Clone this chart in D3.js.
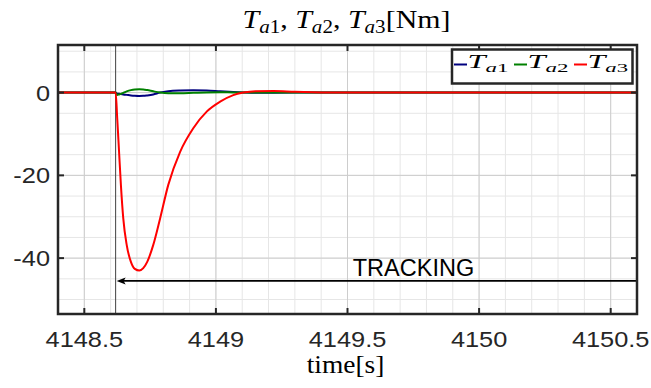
<!DOCTYPE html>
<html>
<head>
<meta charset="utf-8">
<script src="https://cdn.jsdelivr.net/npm/d3@7/dist/d3.min.js"></script>
<style>
  html, body { margin: 0; padding: 0; background: #ffffff; }
  svg { display: block; }
</style>
</head>
<body>
<svg id="chart" width="651" height="388"></svg>
<script>
// Sample times [s] shared by the three torque traces
const time = [4148.40, 4148.619, 4148.625, 4148.632, 4148.639, 4148.648, 4148.661, 4148.677,
  4148.692, 4148.709, 4148.724, 4148.739, 4148.762, 4148.788, 4148.819, 4148.864, 4148.914,
  4148.965, 4149.016, 4149.066, 4149.104, 4149.15, 4149.22, 4149.3, 4149.4, 4149.5, 4150.6];

// Torques [Nm]
const Ta1 = [0, 0, -0.3, -0.3, -0.35, -0.45, -0.55, -0.68, -0.76, -0.8, -0.78, -0.68, -0.45, 0,
  0.3, 0.5, 0.58, 0.5, 0.32, 0.15, 0.05, -0.03, -0.02, 0, 0, 0, 0];
const Ta2 = [0, 0, -0.6, -0.45, -0.3, -0.05, 0.3, 0.6, 0.75, 0.8, 0.75, 0.6, 0.3, 0, -0.15,
  -0.15, -0.05, 0.05, 0.08, 0.05, 0.02, 0, 0, 0, 0, 0, 0];
const Ta3 = [0, 0, -6.2, -14.3, -22.3, -30.4, -36.8, -40.9, -42.6, -43, -42.4, -40.9, -36.8,
  -30.4, -22.3, -14.3, -8.6, -4.6, -2.2, -0.6, 0, 0.35, 0.4, 0.2, 0.05, 0, 0];

const seriesNames = ["a1", "a2", "a3"];
const seriesColors = ["#00007f", "#008000", "#ff0000"];

// Axis ticks
const xTicks = [4148.5, 4149, 4149.5, 4150, 4150.5];
const xTickLabels = ["4148.5", "4149", "4149.5", "4150", "4150.5"];
const yTicks = [0, -20, -40];
const yTickLabels = ["0", "-20", "-40"];

// Event marker and annotation
const eventTime = 4148.619;
const arrowLevel = -45.5;
const arrowStart = 4150.6;
const annotation = "TRACKING";
const annotationTime = 4149.52;
const annotationLevel = -44.3;

const xDomain = [4148.4, 4150.6];
const yDomain = [-53.5, 11.5];

const svg = d3.select("#chart");
const L = 58, R = 637, T = 45, B = 314;
const x = d3.scaleLinear().domain(xDomain).range([L, R]);
const y = d3.scaleLinear().domain(yDomain).range([B, T]);

const ink = "#262626";
const tickFont = "'Liberation Sans', Arial, sans-serif";
const mathFont = "'Liberation Serif', 'Times New Roman', serif";

// Plot background
svg.append("rect").attr("x", L).attr("y", T).attr("width", R - L).attr("height", B - T)
  .attr("fill", "#ffffff");

// Minor grid
const xMinor = d3.range(Math.round(xDomain[0] * 10), Math.round(xDomain[1] * 10) + 1).map(v => v / 10);
const yMinor = d3.range(-50, 11, 5);
const grid = svg.append("g");
grid.selectAll(".xm").data(xMinor).join("line")
  .attr("x1", d => x(d)).attr("x2", d => x(d)).attr("y1", T).attr("y2", B)
  .attr("stroke", "#e6e6e6").attr("stroke-width", 1);
grid.selectAll(".ym").data(yMinor).join("line")
  .attr("x1", L).attr("x2", R).attr("y1", d => y(d)).attr("y2", d => y(d))
  .attr("stroke", "#e6e6e6").attr("stroke-width", 1);
// Major grid
grid.selectAll(".xM").data(xTicks).join("line")
  .attr("x1", d => x(d)).attr("x2", d => x(d)).attr("y1", T).attr("y2", B)
  .attr("stroke", "#cdcdcd").attr("stroke-width", 1);
grid.selectAll(".yM").data(yTicks).join("line")
  .attr("x1", L).attr("x2", R).attr("y1", d => y(d)).attr("y2", d => y(d))
  .attr("stroke", "#cdcdcd").attr("stroke-width", 1);

// Event marker
svg.append("line").attr("x1", x(eventTime)).attr("x2", x(eventTime))
  .attr("y1", T).attr("y2", B).attr("stroke", "#404040").attr("stroke-width", 1);

// Torque traces
const line = d3.line().x((d, i) => x(time[i])).y(d => y(d)).curve(d3.curveMonotoneX);
const plot = svg.append("g");
[Ta1, Ta2, Ta3].forEach((vals, k) => {
  plot.append("path").datum(vals).attr("d", line)
    .attr("fill", "none").attr("stroke", seriesColors[k]).attr("stroke-width", 2)
    .attr("stroke-linejoin", "round");
});

// Annotation arrow pointing back to the event time
const ax0 = x(arrowStart) - 1, ax1 = x(eventTime) + 1, ay = y(arrowLevel);
svg.append("line").attr("x1", ax0).attr("x2", ax1 + 6).attr("y1", ay).attr("y2", ay)
  .attr("stroke", "#000").attr("stroke-width", 1.8);
svg.append("path")
  .attr("d", `M${ax1},${ay} L${ax1 + 9},${ay - 3.5} L${ax1 + 7},${ay} L${ax1 + 9},${ay + 3.5} Z`)
  .attr("fill", "#000");
svg.append("text").attr("x", x(annotationTime)).attr("y", y(annotationLevel))
  .attr("font-family", tickFont).attr("font-size", 23.5).attr("fill", "#000")
  .text(annotation);

// Axes frame and ticks
const axes = svg.append("g").attr("stroke", ink).attr("fill", "none");
axes.append("rect").attr("x", L).attr("y", T).attr("width", R - L).attr("height", B - T)
  .attr("stroke-width", 2.5);
const tl = 6;
xTicks.forEach(v => {
  axes.append("line").attr("x1", x(v)).attr("x2", x(v)).attr("y1", B).attr("y2", B - tl).attr("stroke-width", 2);
  axes.append("line").attr("x1", x(v)).attr("x2", x(v)).attr("y1", T).attr("y2", T + tl).attr("stroke-width", 2);
});
yTicks.forEach(v => {
  axes.append("line").attr("x1", L).attr("x2", L + tl).attr("y1", y(v)).attr("y2", y(v)).attr("stroke-width", 2);
  axes.append("line").attr("x1", R).attr("x2", R - tl).attr("y1", y(v)).attr("y2", y(v)).attr("stroke-width", 2);
});

// Text placed at (px, py) and stretched horizontally by sx
function wideText(px, py, sx) {
  return svg.append("g").attr("transform", `translate(${px},${py}) scale(${sx},1)`).append("text");
}

// Tick labels
const tickSX = 1.18;
xTicks.forEach((v, i) => {
  wideText(x(v), 347, tickSX).attr("text-anchor", "middle")
    .attr("font-family", tickFont).attr("font-size", 21.5).attr("fill", ink).text(xTickLabels[i]);
});
yTicks.forEach((v, i) => {
  wideText(50, y(v) + 8, tickSX).attr("text-anchor", "end")
    .attr("font-family", tickFont).attr("font-size", 21.5).attr("fill", ink).text(yTickLabels[i]);
});

// Math-style T with subscript a#
function mathT(sel, name, sub, shift, after) {
  sel.append("tspan").attr("font-style", "italic").text("T");
  sel.append("tspan").attr("font-size", sub).attr("font-style", "italic").attr("dy", shift).text(name[0]);
  sel.append("tspan").attr("font-size", sub).text(name.slice(1));
  if (after !== undefined) sel.append("tspan").attr("dy", -shift).text(after);
}

// Title, stretched to span its measured width
const titleG = svg.append("g");
const title = titleG.append("text").attr("text-anchor", "middle")
  .attr("font-family", mathFont).attr("font-size", 25.5).attr("fill", "#000");
seriesNames.forEach((n, i) => {
  mathT(title, n, 18, 5, i < seriesNames.length - 1 ? ",\u00a0" : "[Nm]");
});
const tw = title.node().getBBox().width;
titleG.attr("transform", `translate(${(L + R) / 2 - 1},28.3) scale(${208 / tw},1)`);

// x label
wideText((L + R) / 2 - 2, 373, 1.12).attr("text-anchor", "middle")
  .attr("font-family", mathFont).attr("font-size", 24.5).attr("fill", "#000")
  .text("time[s]");

// Legend
const lg = svg.append("g");
lg.append("rect").attr("x", 452).attr("y", 49.5).attr("width", 180.5).attr("height", 34)
  .attr("fill", "#fff").attr("stroke", ink).attr("stroke-width", 2.5);
const entryX = [454, 514, 574];
seriesNames.forEach((n, i) => {
  lg.append("line").attr("x1", entryX[i]).attr("x2", entryX[i] + 13).attr("y1", 64.5).attr("y2", 64.5)
    .attr("stroke", seriesColors[i]).attr("stroke-width", 2);
  const g = lg.append("g");
  const t = g.append("text").attr("font-family", mathFont).attr("font-size", 19).attr("fill", "#000");
  mathT(t, n, 13.5, 4);
  const w = t.node().getBBox().width;
  g.attr("transform", `translate(${entryX[i] + 13.5},67.8) scale(${41 / w},1)`);
});
</script>
</body>
</html>
